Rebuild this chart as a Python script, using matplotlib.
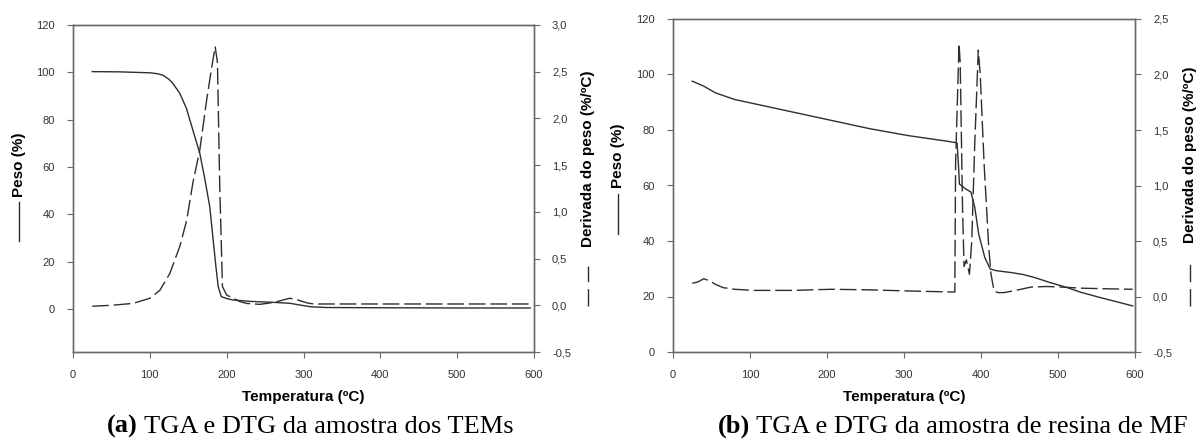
#%% TGA / DTG - duas amostras (TEMs e resina de MF)

import numpy as np
import matplotlib
matplotlib.use('Agg')
import matplotlib.pyplot as plt
from matplotlib.ticker import FuncFormatter, MultipleLocator

plt.rcParams['font.family'] = ['Liberation Sans', 'DejaVu Sans']

# ------------------------------------------------
# dados
# (a) amostra dos TEMs
temp_a_tga = [25, 60, 100, 110, 117, 125, 130, 139, 147.6, 156, 165, 171, 178, 182, 186,
              189, 193, 200, 208, 230, 260, 282, 300, 310, 330, 400, 500, 595]
peso_a = [100.3, 100.2, 99.8, 99.4, 98.8, 97.0, 95.3, 91.1, 84.8, 75.6, 65.8, 55.9, 43.2,
          30.5, 17.9, 9.4, 5.2, 4.4, 3.8, 3.2, 2.8, 2.4, 1.4, 0.9, 0.6, 0.5, 0.4, 0.4]

temp_a_dtg = [25, 50, 78, 100, 113, 126, 139, 148, 156, 165, 174, 180, 185, 188, 191,
              194.5, 200, 217, 226, 243, 261, 275, 282, 290, 295, 305, 313, 400, 500, 595]
deriv_a = [-0.01, 0.0, 0.02, 0.075, 0.16, 0.34, 0.63, 0.91, 1.31, 1.66, 2.2, 2.52, 2.77,
           2.6, 1.27, 0.2, 0.11, 0.04, 0.02, 0.01, 0.03, 0.06, 0.075, 0.065, 0.05, 0.025,
           0.014, 0.014, 0.014, 0.014]

# (b) amostra de resina de MF
temp_b_tga = [25, 40, 55, 80, 105, 155, 205, 255, 305, 355, 368, 369, 371, 372, 380, 387,
              392, 397, 405, 412, 420, 440, 455, 470, 490, 512, 530, 555, 575, 597]
peso_b = [97.6, 95.8, 93.4, 91.0, 89.5, 86.5, 83.5, 80.5, 78.0, 76.0, 75.4, 75.2, 66.0, 60.5,
          58.8, 57.6, 52.0, 42.5, 34.0, 29.9, 29.3, 28.6, 27.9, 26.8, 25.0, 23.2, 21.5,
          19.6, 18.2, 16.6]

temp_b_dtg = [25, 32, 40, 48, 55, 65, 80, 105, 155, 205, 255, 305, 366, 367, 371.5, 373,
              376, 378, 381, 385, 388, 392, 396.5, 399, 404, 410, 413, 417, 422, 430, 445,
              465, 485, 505, 530, 560, 597]
deriv_b = [0.12, 0.13, 0.16, 0.14, 0.11, 0.08, 0.065, 0.055, 0.055, 0.065, 0.06, 0.05, 0.04,
           1.2, 2.28, 2.1, 0.8, 0.27, 0.33, 0.2, 0.5, 1.4, 2.22, 2.0, 1.2, 0.45, 0.2, 0.05,
           0.035, 0.035, 0.055, 0.085, 0.09, 0.085, 0.075, 0.07, 0.065]

xticks = [0, 100, 200, 300, 400, 500, 600]
legendas = ['(a)', '(b)']
textos = [' TGA e DTG da amostra dos TEMs', ' TGA e DTG da amostra de resina de MF']
# ------------------------------------------------

cor_linha = '#2e2e2e'
cor_eixo = '#6a6a6a'
tracejado = (12, 3.5)

virgula = FuncFormatter(lambda v, p: f"{v:.1f}".replace('.', ','))

fig = plt.figure(figsize=(12.04, 4.44), dpi=100)

# posicoes dos eixos (fracao da figura)
pos_a = [73 / 1204, 92 / 444, 461 / 1204, 327 / 444]
pos_b = [673 / 1204, 92 / 444, 462 / 1204, 333 / 444]


def estilo(ax):
    for s in ax.spines.values():
        s.set_color(cor_eixo)
        s.set_linewidth(1.0)
    ax.tick_params(direction='out', length=4, width=0.8, color=cor_eixo,
                   labelsize=8, labelcolor='#333333', pad=9)


def painel(pos, t1, y1, t2, y2, ylim_peso, ylim_dtg, dtg_step, txt_frac, lin_frac, lin2_frac):
    ax = fig.add_axes(pos)
    ax2 = ax.twinx()
    ax.plot(t1, y1, color=cor_linha, lw=1.0)
    ax2.plot(t2, y2, color=cor_linha, lw=1.0, dashes=tracejado)

    ax.set_xlim(0, 600)
    ax.set_xticks(xticks)
    ax.set_ylim(*ylim_peso)
    ax.set_yticks(np.arange(0, 121, 20))
    ax2.set_ylim(*ylim_dtg)
    ax2.yaxis.set_major_locator(MultipleLocator(dtg_step))
    ax2.yaxis.set_major_formatter(virgula)
    estilo(ax)
    estilo(ax2)

    ax.set_xlabel('Temperatura (ºC)', fontsize=11, fontweight='bold', labelpad=7)

    # rotulos verticais com amostra da linha
    ax.text(-0.118, txt_frac[0], 'Peso (%)', transform=ax.transAxes, rotation=90,
            ha='center', va='center', fontsize=11, fontweight='bold')
    ax.plot([-0.118, -0.118], lin_frac, transform=ax.transAxes, color=cor_linha,
            lw=1.0, clip_on=False)
    ax2.text(1.118, txt_frac[1], 'Derivada do peso (%/ºC)', transform=ax2.transAxes,
             rotation=90, ha='center', va='center', fontsize=11, fontweight='bold')
    ax2.plot([1.118, 1.118], lin2_frac, transform=ax2.transAxes, color=cor_linha,
             lw=1.0, dashes=(12.5, 5), clip_on=False)
    return ax


painel(pos_a, temp_a_tga, peso_a, temp_a_dtg, deriv_a, (-18.2, 120), (-0.5, 3.0), 0.5,
       (0.572, 0.59), [0.338, 0.46], [0.14, 0.262])
painel(pos_b, temp_b_tga, peso_b, temp_b_dtg, deriv_b, (0, 120), (-0.5, 2.5), 0.5,
       (0.588, 0.593), [0.354, 0.475], [0.139, 0.264])

# legendas das figuras: "(a)" em negrito, resto normal
x_inicio = [107 / 1204, 718 / 1204]
for xi, lg, tx in zip(x_inicio, legendas, textos):
    t1 = fig.text(xi, 1 - 426 / 444, lg, fontsize=19, fontweight='bold',
                  family='Liberation Serif', va='center', ha='left')
    plt.annotate(tx, xy=(1, 0), xycoords=t1, va='bottom', ha='left', fontsize=19,
                 family='Liberation Serif', annotation_clip=False)

fig.savefig('out.png', dpi=100)
